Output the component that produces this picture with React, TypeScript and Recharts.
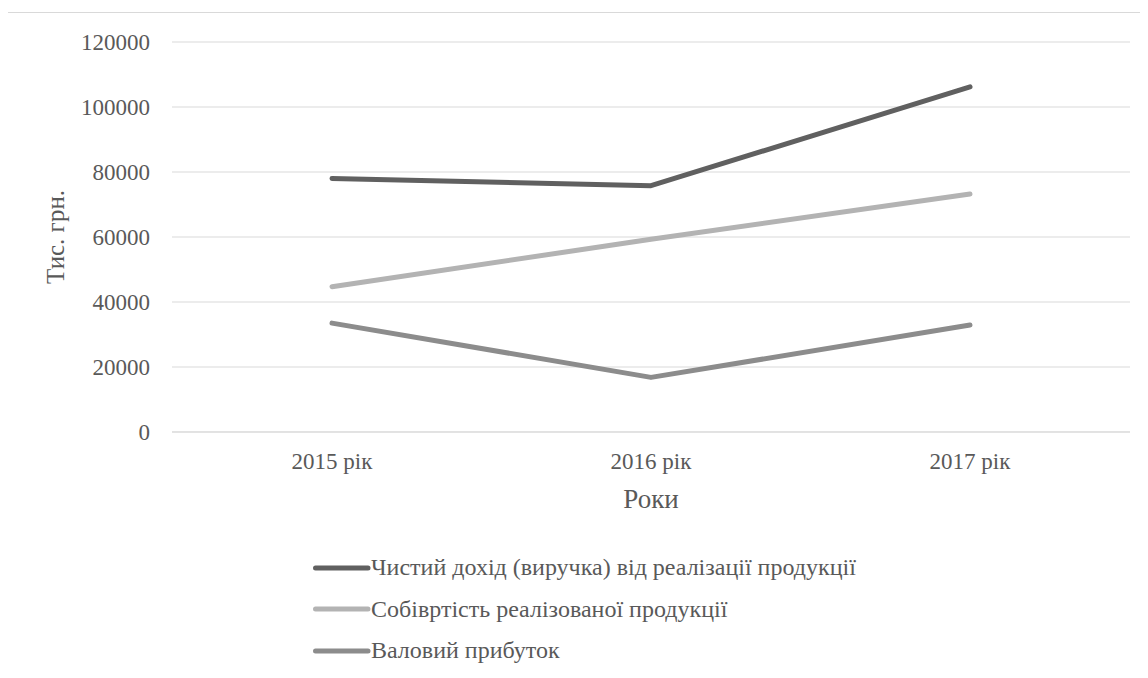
import React from 'react';
import { LineChart, Line, XAxis, YAxis, CartesianGrid, Legend, Label } from 'recharts';

const years = ['2015 рік', '2016 рік', '2017 рік'];
const revenue = [78000, 75800, 106200];
const costOfSales = [44700, 59300, 73200];
const grossProfit = [33500, 16800, 32900];
const yTicks = [0, 20000, 40000, 60000, 80000, 100000, 120000];

const SERIES = [
  { key: 'revenue', name: 'Чистий дохід (виручка) від реалізації продукції', color: '#606060' },
  { key: 'cost', name: 'Собівртість реалізованої продукції', color: '#b3b3b3' },
  { key: 'profit', name: 'Валовий прибуток', color: '#8c8c8c' },
];

const data = years.map((year, i) => ({
  year,
  revenue: revenue[i],
  cost: costOfSales[i],
  profit: grossProfit[i],
}));

const FONT = '"Liberation Serif"';
const TEXT = '#595959';
const GRID = '#d9d9d9';

// legend rows: a short thick stroke followed directly by the series name
function LegendRows() {
  return (
    <div style={{ fontFamily: FONT, fontSize: 24, color: TEXT }}>
      {SERIES.map((s) => (
        <div key={s.key} style={{ display: 'flex', alignItems: 'center', height: 41.5 }}>
          <svg width={58} height={8} style={{ display: 'block' }}>
            <line x1={2.5} y1={4} x2={55} y2={4} stroke={s.color} strokeWidth={5} strokeLinecap="round" />
          </svg>
          <span style={{ whiteSpace: 'nowrap', fontFamily: FONT }}>{s.name}</span>
        </div>
      ))}
    </div>
  );
}

export default function App() {
  return (
    <div style={{ position: 'relative', top: 4, width: 1140, height: 666, fontFamily: FONT }}>
      <div
        style={{
          position: 'absolute',
          left: -1,
          top: 0,
          width: 1142,
          height: 666,
          borderTop: `1px solid ${GRID}`,
          borderLeft: `1px solid ${GRID}`,
          boxSizing: 'border-box',
        }}
      />
      <LineChart
        width={1140}
        height={666}
        data={data}
        margin={{ top: 30, right: 18, left: 0, bottom: 186 }}
      >
        <CartesianGrid vertical={false} stroke={GRID} strokeWidth={1} />
        <XAxis
          dataKey="year"
          height={60}
          padding={{ left: 160, right: 160 }}
          axisLine={{ stroke: GRID }}
          tickLine={false}
          tickSize={0}
          tickMargin={21}
          tick={{ fill: TEXT, fontSize: 23, style: { fontFamily: FONT } }}
        >
          <Label value="Роки" position="insideTop" offset={57} fill={TEXT} fontSize={27} style={{ fontFamily: FONT }} />
        </XAxis>
        <YAxis
          width={164}
          domain={[0, 120000]}
          ticks={yTicks}
          interval={0}
          axisLine={false}
          tickLine={false}
          tickSize={0}
          tickMargin={22}
          tick={{ fill: TEXT, fontSize: 23, style: { fontFamily: FONT } }}
        >
          <Label value="Тис. грн." angle={-90} position="center" dx={-35} fill={TEXT} fontSize={25} style={{ fontFamily: FONT }} />
        </YAxis>
        <Legend
          layout="vertical"
          align="center"
          verticalAlign="middle"
          wrapperStyle={{ left: 305, top: 535, width: 'auto' }}
          content={() => <LegendRows />}
        />
        {SERIES.map((s) => (
          <Line
            key={s.key}
            type="linear"
            dataKey={s.key}
            name={s.name}
            stroke={s.color}
            strokeWidth={5}
            strokeLinecap="round"
            strokeLinejoin="round"
            dot={false}
            activeDot={false}
            isAnimationActive={false}
          />
        ))}
      </LineChart>
    </div>
  );
}
